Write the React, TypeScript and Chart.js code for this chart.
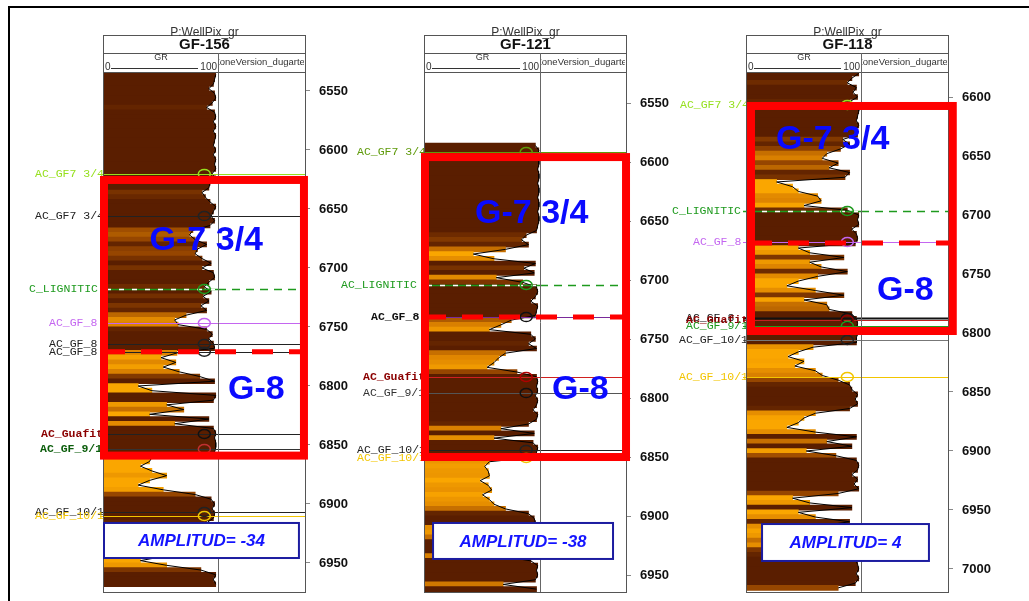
import React, { useEffect, useRef } from "react";
import { Chart, registerables } from "chart.js";

Chart.register(...registerables);

// ---------------- DATA ----------------
const WELL_NAMES = ["GF-156", "GF-121", "GF-118"];
const HEADER_TITLE = "P:WellPix_gr";
const GR_LABEL = "GR";
const ZONE_TRACK_LABEL = "ZoneVersion_dugarte";
const AMPLITUDE_LABELS = ["AMPLITUD= -34", "AMPLITUD= -38", "AMPLITUD= 4"];
const ZONE_NAMES = ["G-7 3/4", "G-8"];

// depth window shown by each well track (ft) and the tick step
const DEPTH_MIN = [6533.9, 6523.7, 6578.8];
const DEPTH_MAX = [6974.6, 6964.4, 7019.5];
const DEPTH_TICK_STEP = 50;

// GR samples: first sample depth and sampling step (ft)
const GR_START = [6536, 6586, 6580];
const GR_STEP = 4;

const GR_156 = [
  98, 97, 96, 92, 97, 98, 95, 90, 97, 98,
  96, 98, 96, 98, 97, 96, 98, 96, 98, 97,
  98, 95, 98, 93, 92, 86, 89, 93, 98, 96,
  94, 97, 93, 78, 75, 80, 90, 82, 80, 86,
  94, 86, 96, 97, 92, 88, 94, 87, 92, 85,
  90, 72, 62, 65, 90, 95, 92, 96, 97, 64,
  50, 63, 52, 66, 84, 97, 30, 42, 98, 96,
  55, 70, 40, 92, 62, 96, 98, 97, 98, 98,
  97, 42, 40, 32, 42, 55, 40, 30, 52, 80,
  94, 97, 95, 97, 96, 90, 60, 50, 85, 92,
  88, 70, 55, 32, 55, 85, 98, 96, 98,
];

const GR_121 = [
  96, 99, 98, 99, 99, 98, 99, 99, 98, 99,
  99, 98, 99, 99, 98, 99, 99, 98, 97, 88,
  84, 90, 70, 42, 60, 96, 86, 95, 62, 85,
  97, 98, 96, 92, 98, 97, 96, 75, 66, 56,
  92, 96, 90, 97, 70, 64, 60, 54, 80, 97,
  98, 97, 98, 96, 98, 97, 94, 98, 97, 90,
  66, 95, 60, 94, 98, 97, 96, 56, 52, 55,
  56, 48, 55, 58, 50, 56, 60, 70, 90, 95,
  96, 60, 55, 70, 95, 96, 94, 66, 92, 98,
  97, 98, 96, 68, 97,
];

const GR_118 = [
  98, 92, 88, 96, 93, 97, 90, 98, 98, 97,
  96, 98, 95, 97, 84, 90, 82, 70, 66, 80,
  72, 90, 86, 26, 40, 45, 62, 65, 50, 88,
  98, 97, 98, 92, 96, 97, 95, 45, 55, 85,
  55, 65, 88, 62, 45, 35, 60, 85, 50, 70,
  72, 92, 96, 97, 96, 97, 96, 96, 58, 45,
  36, 50, 42, 60, 66, 80, 90, 92, 97, 95,
  97, 90, 60, 50, 45, 35, 60, 96, 70, 92,
  52, 78, 96, 98, 97, 92, 97, 94, 98, 80,
  40, 55, 92, 45, 60, 90, 60, 50, 55, 70,
  60, 85, 90, 95, 97, 98, 96, 98, 95, 80,
];
const GR_SERIES = [GR_156, GR_121, GR_118];

// zone boxes (depth, ft)
const ZONE_TOP = [6625.4, 6595.8, 6607.6];
const ZONE_MID = [6771, 6731.4, 6723.7];
const ZONE_BASE = [6859, 6850, 6798.3];

// well tops: name, depth, colors
type Top = { name: string; depth: number; color: string; line?: string; circle?: string; dashed?: boolean; bold?: boolean; width?: number; dx: number };
const TOPS_156: Top[] = [
  { name: "AC_GF7 3/4", depth: 6620.3, color: "#96e01e", dx: -69 },
  { name: "AC_GF7 3/4", depth: 6656, color: "#222222", dx: -69 },
  { name: "C_LIGNITIC", depth: 6717.8, color: "#1e9a1e", dashed: true, dx: -75 },
  { name: "AC_GF_8", depth: 6746.6, color: "#c466f0", dx: -55 },
  { name: "AC_GF_8", depth: 6764.4, color: "#222222", dx: -55 },
  { name: "AC_GF_8", depth: 6771, color: "#222222", dx: -55 },
  { name: "AC_Guafita", depth: 6840.7, color: "#8b0000", line: "#222222", circle: "#111111", bold: true, dx: -63 },
  { name: "AC_GF_9/1", depth: 6853.4, color: "#0b5d0b", line: "#333333", circle: "#c03030", bold: true, dx: -64 },
  { name: "AC_GF_10/1", depth: 6906.8, color: "#222222", dx: -69 },
  { name: "AC_GF_10/1", depth: 6910.2, color: "#f2c500", dx: -69 },
];
const TOPS_121: Top[] = [
  { name: "AC_GF7 3/4", depth: 6591.5, color: "#5e9a0a", dx: -68 },
  { name: "AC_LIGNITIC", depth: 6704.2, color: "#1e9a1e", dashed: true, dx: -84 },
  { name: "AC_GF_8", depth: 6731.4, color: "#111111", line: "#7a2a9a", circle: "#111111", bold: true, dx: -54 },
  { name: "AC_Guafita", depth: 6782.2, color: "#8b0000", line: "#d02020", circle: "#b00000", bold: true, dx: -62 },
  { name: "AC_GF_9/1", depth: 6795.8, color: "#333333", line: "#555555", circle: "#111111", dx: -62 },
  { name: "AC_GF_10/1", depth: 6844, color: "#222222", dx: -68 },
  { name: "AC_GF_10/1", depth: 6850.8, color: "#f2c500", dx: -68 },
];
const TOPS_118: Top[] = [
  { name: "AC_GF7 3/4", depth: 6606.8, color: "#96e01e", dx: -67 },
  { name: "C_LIGNITIC", depth: 6696.6, color: "#1e9a1e", dashed: true, dx: -75 },
  { name: "AC_GF_8", depth: 6722.9, color: "#c466f0", dx: -54 },
  { name: "AC_GF_8", depth: 6787.3, color: "#111111", width: 2, dx: -61 },
  { name: "AC_Guafita", depth: 6789, color: "#8b0000", line: "#c02020", circle: "#8b0000", bold: true, dx: -61 },
  { name: "AC_GF_9/1", depth: 6794, color: "#1e9a1e", dx: -61 },
  { name: "AC_GF_10/1", depth: 6805.9, color: "#222222", line: "#777777", dx: -68 },
  { name: "AC_GF_10/1", depth: 6837.3, color: "#f2c500", dx: -68 },
];
const TOPS = [TOPS_156, TOPS_121, TOPS_118];
const TOP_MARKER_GR = 88;

// annotation positions (x in GR units, depth in ft)
const G7_POS = [{ x: 40, d: 6677 }, { x: 43.5, d: 6644 }, { x: 25.4, d: 6636.4 }];
const G8_POS = [{ x: 108.8, d: 6803.4 }, { x: 110.4, d: 6793 }, { x: 114, d: 6764 }];
const ZONE_BOX_X = [{ l: 0, r: 175.4 }, { l: 0, r: 174.8 }, { l: 3.5, r: 180.5 }];
const AMP_BOX = [
  { x0: 0, x1: 171, d0: 6916.1, d1: 6945.8 },
  { x0: 7, x1: 163.5, d0: 6905.9, d1: 6936.4 },
  { x0: 13.2, x1: 159.6, d0: 6961.9, d1: 6993.2 },
];

// ---------------- LAYOUT (pixels) ----------------
const CANVAS_X = [10, 338, 665];
const CANVAS_W = [350, 342, 364];
const TRACK_LEFT = [104, 425, 747];
const TRACK_RIGHT = [305, 626, 948];
const TRACK_DIVIDER = [218, 540, 861];
const CANVAS_H = 601;
const AREA_TOP = 72;
const AREA_BOTTOM = 592;

const grColor = (v: number) => {
  const stops: [number, number[]][] = [
    [48, [250, 166, 0]],
    [65, [222, 132, 0]],
    [80, [150, 70, 0]],
    [92, [90, 30, 0]],
  ];
  if (v <= stops[0][0]) return `rgb(${stops[0][1].join(",")})`;
  for (let i = 1; i < stops.length; i++) {
    if (v <= stops[i][0]) {
      const [a, ca] = stops[i - 1];
      const [b, cb] = stops[i];
      const t = (v - a) / (b - a);
      const c = ca.map((k, j) => Math.round(k + (cb[j] - k) * t));
      return `rgb(${c.join(",")})`;
    }
  }
  return `rgb(${stops[stops.length - 1][1].join(",")})`;
};

function WellChart({ idx }: { idx: number }) {
  const ref = useRef<HTMLCanvasElement>(null);
  useEffect(() => {
    const values = GR_SERIES[idx];
    const points = values.map((v, i) => ({ x: v, y: GR_START[idx] + i * GR_STEP }));
    const L = TRACK_LEFT[idx];
    const xMax = (100 * (TRACK_RIGHT[idx] - L)) / (TRACK_DIVIDER[idx] - L);
    const axisW = CANVAS_X[idx] + CANVAS_W[idx] - TRACK_RIGHT[idx];

    const overlay = {
      id: "overlay" + idx,
      afterDraw(chart: any) {
        const { ctx, chartArea: ca } = chart;
        const xs = chart.scales.x;
        const ys = chart.scales.y;
        const left = ca.left, right = ca.right, bottom = ca.bottom, top = ca.top;
        const div = xs.getPixelForValue(100);
        const crisp = (v: number) => Math.round(v) + 0.5;
        const line = (x0: number, y0: number, x1: number, y1: number) => {
          ctx.beginPath();
          ctx.moveTo(x0, y0);
          ctx.lineTo(x1, y1);
          ctx.stroke();
        };

        // ---- well tops lines ----
        const tops = TOPS[idx];
        for (const t of tops) {
          const y = crisp(ys.getPixelForValue(t.depth));
          ctx.save();
          ctx.lineWidth = t.width ?? 1;
          if (t.dashed) {
            ctx.strokeStyle = t.color;
            ctx.lineWidth = 1.6;
            line(left - 4, y, div, y);
            ctx.strokeStyle = "#ffffff";
            ctx.setLineDash([5, 8]);
            line(left + 2, y, div, y);
            ctx.strokeStyle = t.color;
            ctx.setLineDash([8, 6]);
            line(div, y, right, y);
          } else {
            ctx.strokeStyle = t.line ?? t.color;
            line(left - 4, y, right, y);
          }
          ctx.restore();
        }
        // circles
        const cx = xs.getPixelForValue(TOP_MARKER_GR);
        for (const t of tops) {
          const y = ys.getPixelForValue(t.depth);
          ctx.save();
          ctx.strokeStyle = t.circle ?? t.color;
          ctx.lineWidth = 1.5;
          ctx.beginPath();
          ctx.ellipse(cx, y, 6, 4.5, 0, 0, Math.PI * 2);
          ctx.stroke();
          ctx.restore();
        }
        // labels
        ctx.save();
        ctx.beginPath();
        ctx.rect(0, 0, left, CANVAS_H);
        ctx.clip();
        ctx.textBaseline = "middle";
        ctx.textAlign = "left";
        for (const t of tops) {
          const y = ys.getPixelForValue(t.depth);
          ctx.font = `${t.bold ? "bold " : ""}11.5px "Liberation Mono", monospace`;
          ctx.fillStyle = t.color;
          ctx.fillText(t.name, left + t.dx, y);
        }
        ctx.restore();

        // ---- track frame and header ----
        ctx.save();
        ctx.strokeStyle = "#555555";
        ctx.lineWidth = 1;
        const hTop = top - 37;
        const hMid = top - 19;
        ctx.strokeRect(crisp(left) - 1, crisp(hTop), Math.round(right - left) + 1, Math.round(bottom - hTop));
        line(left - 1, crisp(hMid), right, crisp(hMid));
        line(left - 1, crisp(top), right, crisp(top));
        ctx.strokeStyle = "#666666";
        line(crisp(div), hMid, crisp(div), bottom);
        ctx.fillStyle = "#333333";
        ctx.textAlign = "center";
        ctx.textBaseline = "alphabetic";
        ctx.font = '12px "Liberation Sans", Arial, sans-serif';
        ctx.fillText(HEADER_TITLE, (left + right) / 2, hTop + 1);
        ctx.fillStyle = "#111111";
        ctx.font = 'bold 15px "Liberation Sans", Arial, sans-serif';
        ctx.textBaseline = "middle";
        ctx.fillText(WELL_NAMES[idx], (left + right) / 2, hTop + 9.5);
        ctx.fillStyle = "#333333";
        ctx.font = '9px "Liberation Sans", Arial, sans-serif';
        ctx.fillText(GR_LABEL, (left + div) / 2, hMid + 5);
        ctx.font = '10px "Liberation Sans", Arial, sans-serif';
        ctx.textAlign = "left";
        ctx.fillText("0", left + 1, top - 5);
        ctx.textAlign = "right";
        ctx.fillText("100", div - 1, top - 5);
        ctx.strokeStyle = "#333333";
        line(left + 7, crisp(top - 4), div - 20, crisp(top - 4));
        ctx.save();
        ctx.beginPath();
        ctx.rect(div + 1, hMid + 1, right - div - 2, top - hMid - 2);
        ctx.clip();
        ctx.textAlign = "left";
        ctx.font = '9.5px "Liberation Sans", Arial, sans-serif';
        ctx.fillText(ZONE_TRACK_LABEL, div - 4, hMid + 9);
        ctx.restore();
        ctx.restore();

        // ---- red zone box ----
        ctx.save();
        const bx0 = xs.getPixelForValue(ZONE_BOX_X[idx].l);
        const bx1 = xs.getPixelForValue(ZONE_BOX_X[idx].r);
        const by0 = ys.getPixelForValue(ZONE_TOP[idx]);
        const by1 = ys.getPixelForValue(ZONE_BASE[idx]);
        const bym = ys.getPixelForValue(ZONE_MID[idx]);
        ctx.strokeStyle = "#ff0000";
        ctx.lineWidth = 8;
        ctx.strokeRect(bx0, by0, bx1 - bx0, by1 - by0);
        ctx.lineWidth = 5;
        ctx.setLineDash([21, 16]);
        line(bx0, bym, bx1, bym);
        ctx.restore();

        // ---- zone names ----
        ctx.save();
        ctx.fillStyle = "#0a0aff";
        ctx.font = 'bold 34px "Liberation Sans", Arial, sans-serif';
        ctx.textBaseline = "middle";
        ctx.textAlign = "left";
        ctx.fillText(ZONE_NAMES[0], xs.getPixelForValue(G7_POS[idx].x), ys.getPixelForValue(G7_POS[idx].d));
        ctx.fillText(ZONE_NAMES[1], xs.getPixelForValue(G8_POS[idx].x), ys.getPixelForValue(G8_POS[idx].d));
        ctx.restore();

        // ---- amplitude box ----
        ctx.save();
        const a = AMP_BOX[idx];
        const ax0 = xs.getPixelForValue(a.x0);
        const ax1 = xs.getPixelForValue(a.x1);
        const ay0 = ys.getPixelForValue(a.d0);
        const ay1 = ys.getPixelForValue(a.d1);
        ctx.fillStyle = "#ffffff";
        ctx.fillRect(ax0, ay0, ax1 - ax0, ay1 - ay0);
        ctx.strokeStyle = "#1c1ca0";
        ctx.lineWidth = 2;
        ctx.strokeRect(ax0, ay0, ax1 - ax0, ay1 - ay0);
        ctx.fillStyle = "#1414ff";
        ctx.font = 'italic bold 17px "Liberation Sans", Arial, sans-serif';
        ctx.textAlign = "center";
        ctx.textBaseline = "middle";
        ctx.fillText(AMPLITUDE_LABELS[idx], (ax0 + ax1) / 2, (ay0 + ay1) / 2 + 1);
        ctx.restore();
      },
    };

    const chart = new Chart(ref.current as HTMLCanvasElement, {
      type: "bar",
      data: {
        datasets: [
          {
            type: "line",
            data: points,
            borderColor: "#000000",
            borderWidth: 1,
            pointRadius: 0,
            fill: false,
            tension: 0,
            order: 0,
          } as any,
          {
            type: "bar",
            data: points,
            backgroundColor: values.map(grColor),
            borderWidth: 0,
            barThickness: 5,
            order: 1,
          } as any,
        ],
      },
      options: {
        indexAxis: "y",
        responsive: false,
        devicePixelRatio: 1,
        animation: false,
        events: [],
        layout: { padding: { left: L - CANVAS_X[idx], top: AREA_TOP, bottom: CANVAS_H - AREA_BOTTOM, right: 0 } },
        plugins: { legend: { display: false }, tooltip: { enabled: false } },
        scales: {
          x: { type: "linear", min: 0, max: xMax, display: false, offset: false },
          y: {
            type: "linear",
            position: "right",
            reverse: true,
            offset: false,
            min: DEPTH_MIN[idx],
            max: DEPTH_MAX[idx],
            afterFit: (s: any) => {
              s.width = axisW;
              s.paddingTop = 0;
              s.paddingBottom = 0;
            },
            grid: { offset: false, drawOnChartArea: false, drawTicks: true, tickLength: 5, color: "#888888" },
            border: { display: true, color: "#555555" },
            ticks: {
              stepSize: DEPTH_TICK_STEP,
              includeBounds: false,
              padding: 9,
              color: "#111111",
              font: { family: '"Liberation Sans", Arial, sans-serif', size: 13, weight: "bold" },
              callback: (v: any) => String(v),
            },
          },
        },
      } as any,
      plugins: [overlay],
    });
    return () => chart.destroy();
  }, [idx]);

  return (
    <canvas
      ref={ref}
      width={CANVAS_W[idx]}
      height={CANVAS_H}
      style={{ position: "absolute", left: CANVAS_X[idx], top: 0, width: CANVAS_W[idx], height: CANVAS_H }}
    />
  );
}

export default function App() {
  return (
    <div style={{ position: "fixed", left: 0, top: 0, width: 1029, height: 601, background: "#ffffff", overflow: "hidden" }}>
      <div
        style={{
          position: "absolute",
          left: 8,
          top: 6,
          width: 1200,
          height: 800,
          borderTop: "2px solid #000",
          borderLeft: "2px solid #000",
        }}
      />
      <WellChart idx={0} />
      <WellChart idx={1} />
      <WellChart idx={2} />
    </div>
  );
}
